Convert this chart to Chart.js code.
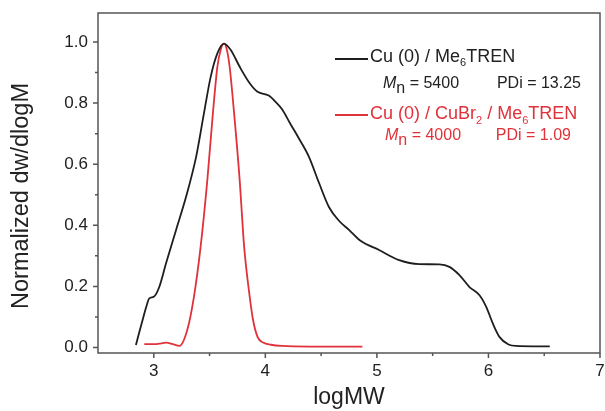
<!DOCTYPE html>
<html>
<head>
<meta charset="utf-8">
<script src="https://cdn.jsdelivr.net/npm/chart.js@4"></script>
<style>
  html, body { margin: 0; padding: 0; background: #fff; }
</style>
</head>
<body>
<canvas id="gpcChart" width="605" height="411"></canvas>
<script>
// GPC traces
const logMW_cu0 = [2.84, 2.87, 2.90, 2.93, 2.96, 3.00, 3.05, 3.11, 3.20, 3.29, 3.38, 3.45, 3.51, 3.57, 3.63, 3.69, 3.77, 3.86, 3.93, 4.03, 4.09, 4.15, 4.22, 4.30, 4.39, 4.48, 4.57, 4.66, 4.75, 4.85, 5.02, 5.20, 5.38, 5.56, 5.65, 5.74, 5.83, 5.92, 5.98, 6.04, 6.10, 6.18, 6.25, 6.40, 6.55];
const dw_cu0 = [0.008, 0.05, 0.09, 0.13, 0.161, 0.166, 0.199, 0.276, 0.385, 0.494, 0.625, 0.767, 0.886, 0.963, 0.995, 0.974, 0.919, 0.865, 0.837, 0.825, 0.805, 0.78, 0.735, 0.685, 0.625, 0.54, 0.46, 0.415, 0.385, 0.35, 0.319, 0.286, 0.273, 0.272, 0.264, 0.237, 0.198, 0.171, 0.133, 0.078, 0.034, 0.01, 0.005, 0.004, 0.004];

const logMW_cubr2 = [2.915, 3.00, 3.06, 3.11, 3.17, 3.23, 3.30, 3.36, 3.42, 3.48, 3.53, 3.57, 3.60, 3.63, 3.655, 3.68, 3.72, 3.77, 3.81, 3.86, 3.89, 3.93, 3.98, 4.05, 4.15, 4.40, 4.87];
const dw_cubr2 = [0.011, 0.011, 0.013, 0.016, 0.011, 0.005, 0.057, 0.166, 0.33, 0.548, 0.767, 0.919, 0.975, 0.995, 0.975, 0.919, 0.767, 0.548, 0.33, 0.166, 0.09, 0.035, 0.016, 0.009, 0.005, 0.003, 0.003];

const xTicks = [3, 4, 5, 6, 7];
const xMinorTicks = [3.5, 4.5, 5.5, 6.5];
const yTicks = [0, 0.2, 0.4, 0.6, 0.8, 1.0];
const yMinorTicks = [0.1, 0.3, 0.5, 0.7, 0.9];

const FONT = '"Liberation Sans", Arial, Helvetica, sans-serif';
const BLACK = '#1e1e1e';
const RED = '#e0323a';
const AXIS = '#555';

function toPoints(xs, ys) {
    return xs.map((x, i) => ({ x: x, y: ys[i] }));
}

// draw a line of text made of runs (normal / italic / subscript)
function drawRuns(ctx, x, y, runs, color) {
    ctx.fillStyle = color;
    ctx.textBaseline = 'middle';
    ctx.textAlign = 'left';
    runs.forEach(r => {
        ctx.font = (r.italic ? 'italic ' : '') + r.size + 'px ' + FONT;
        ctx.fillText(r.t, x, y + (r.dy || 0));
        x += ctx.measureText(r.t).width;
    });
}

function drawRight(ctx, x, y, text, color) {
    ctx.fillStyle = color;
    ctx.textBaseline = 'middle';
    ctx.textAlign = 'right';
    ctx.font = '16px ' + FONT;
    ctx.fillText(text, x, y);
}

const framePlugin = {
    id: 'frame',
    afterDraw(chart) {
        const ctx = chart.ctx;
        const a = chart.chartArea;
        const xs = chart.scales.x;
        const ys = chart.scales.y;
        ctx.save();
        ctx.strokeStyle = AXIS;
        ctx.lineWidth = 1.5;
        ctx.strokeRect(a.left, a.top, a.right - a.left, a.bottom - a.top);

        // tick marks, pointing out
        ctx.beginPath();
        xTicks.forEach(v => {
            const px = xs.getPixelForValue(v);
            ctx.moveTo(px, a.bottom); ctx.lineTo(px, a.bottom + 5);
        });
        xMinorTicks.forEach(v => {
            const px = xs.getPixelForValue(v);
            ctx.moveTo(px, a.bottom); ctx.lineTo(px, a.bottom + 3);
        });
        yTicks.forEach(v => {
            const py = ys.getPixelForValue(v);
            ctx.moveTo(a.left, py); ctx.lineTo(a.left - 5, py);
        });
        yMinorTicks.forEach(v => {
            const py = ys.getPixelForValue(v);
            ctx.moveTo(a.left, py); ctx.lineTo(a.left - 3, py);
        });
        ctx.stroke();

        // y axis title
        ctx.save();
        ctx.translate(22, 196);
        ctx.rotate(-Math.PI / 2);
        ctx.fillStyle = '#222';
        ctx.font = '23.5px ' + FONT;
        ctx.textAlign = 'center';
        ctx.textBaseline = 'middle';
        ctx.fillText('Normalized dw/dlogM', 0, 0);
        ctx.restore();

        // legend
        ctx.lineWidth = 1.8;
        ctx.strokeStyle = BLACK;
        ctx.beginPath(); ctx.moveTo(335, 59); ctx.lineTo(368, 59); ctx.stroke();
        ctx.strokeStyle = RED;
        ctx.beginPath(); ctx.moveTo(335, 115); ctx.lineTo(368, 115); ctx.stroke();

        drawRuns(ctx, 370, 57, [
            { t: 'Cu (0) / Me', size: 18 },
            { t: '6', size: 11, dy: 6 },
            { t: 'TREN', size: 18 }
        ], '#222');
        drawRuns(ctx, 383, 84, [
            { t: 'M', size: 16, italic: true },
            { t: 'n', size: 16, dy: 5 },
            { t: ' = 5400', size: 16 }
        ], '#222');
        drawRight(ctx, 581, 84, 'PDi = 13.25', '#222');

        drawRuns(ctx, 370, 114.5, [
            { t: 'Cu (0) / CuBr', size: 18 },
            { t: '2', size: 11, dy: 6 },
            { t: ' / Me', size: 18 },
            { t: '6', size: 11, dy: 6 },
            { t: 'TREN', size: 18 }
        ], RED);
        drawRuns(ctx, 385, 136, [
            { t: 'M', size: 16, italic: true },
            { t: 'n', size: 16, dy: 5 },
            { t: ' = 4000', size: 16 }
        ], RED);
        drawRight(ctx, 571, 136, 'PDi = 1.09', RED);
        ctx.restore();
    }
};

document.addEventListener('DOMContentLoaded', function() {
    const ctx = document.getElementById('gpcChart').getContext('2d');
    new Chart(ctx, {
        type: 'line',
        data: {
            datasets: [
                {
                    label: 'Cu (0) / Me6TREN',
                    data: toPoints(logMW_cu0, dw_cu0),
                    borderColor: BLACK,
                    borderWidth: 1.8,
                    pointRadius: 0,
                    cubicInterpolationMode: 'monotone',
                    fill: false
                },
                {
                    label: 'Cu (0) / CuBr2 / Me6TREN',
                    data: toPoints(logMW_cubr2, dw_cubr2),
                    borderColor: RED,
                    borderWidth: 1.8,
                    pointRadius: 0,
                    cubicInterpolationMode: 'monotone',
                    fill: false
                }
            ]
        },
        options: {
            responsive: false,
            animation: false,
            layout: { padding: { top: 13, right: 5, left: 0, bottom: 0 } },
            plugins: {
                legend: { display: false },
                tooltip: { enabled: false }
            },
            scales: {
                x: {
                    type: 'linear',
                    min: 2.5,
                    max: 7,
                    grid: { display: false, drawTicks: false },
                    border: { display: false },
                    ticks: {
                        color: '#222',
                        font: { family: FONT, size: 17 },
                        padding: 8,
                        maxRotation: 0
                    },
                    title: {
                        display: true,
                        text: 'logMW',
                        color: '#222',
                        font: { family: FONT, size: 23 },
                        padding: { top: 0, bottom: 0 }
                    },
                    afterBuildTicks: s => { s.ticks = xTicks.map(v => ({ value: v })); },
                    afterFit: s => { s.height = 58; s.paddingLeft = 0; s.paddingRight = 0; }
                },
                y: {
                    type: 'linear',
                    min: -0.018,
                    max: 1.095,
                    grid: { display: false, drawTicks: false },
                    border: { display: false },
                    ticks: {
                        color: '#222',
                        font: { family: FONT, size: 17 },
                        padding: 10,
                        callback: v => v.toFixed(1)
                    },
                    afterBuildTicks: s => { s.ticks = yTicks.map(v => ({ value: v })); },
                    afterFit: s => { s.width = 98; s.paddingTop = 0; s.paddingBottom = 0; }
                }
            }
        },
        plugins: [framePlugin]
    });
});
</script>
</body>
</html>
